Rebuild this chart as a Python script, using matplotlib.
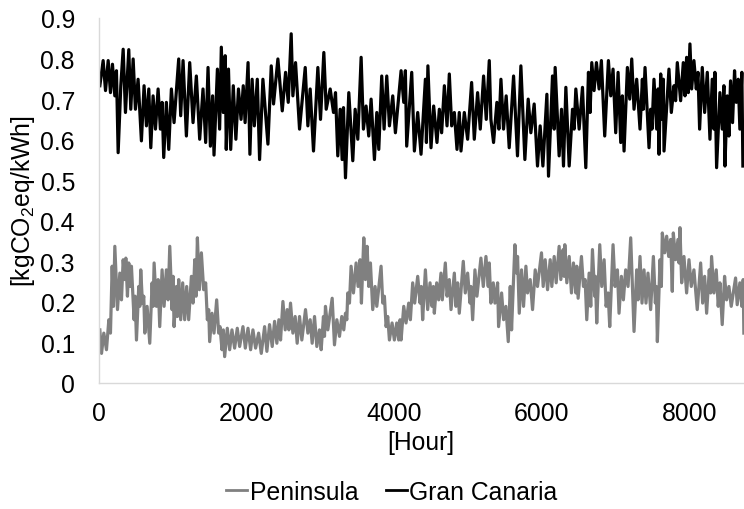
import matplotlib.pyplot as plt
import numpy as np

# hourly emission factor (local highs and lows in order)
gc_hours = [18, 63, 95, 131, 162, 189, 221, 243, 266, 302, 334, 365, 410, 437, 469, 500, 536, 581, 617, 649,
            681, 708, 739, 771, 807, 838, 861, 883, 919, 951, 987, 1023, 1086, 1113, 1145, 1190, 1235, 1280, 1325, 1370,
            1415, 1451, 1483, 1515, 1545, 1564, 1610, 1640, 1663, 1690, 1715, 1730, 1760, 1790, 1825, 1860, 1895, 1930, 1960, 1985,
            2025, 2050, 2080, 2110, 2150, 2181,
            2226, 2294, 2339, 2370, 2429, 2488, 2533, 2569, 2609, 2632, 2668, 2722, 2799, 2835, 2866, 2911, 2970, 3006, 3051, 3083,
            3137, 3182, 3209, 3240, 3272, 3299, 3317, 3344, 3389, 3443, 3475, 3511, 3556, 3587, 3623, 3659, 3691, 3736, 3768, 3795,
            3835, 3867, 3903, 3939, 3984, 4020, 4097, 4133, 4155, 4173, 4241, 4277, 4322, 4367, 4426,
            4440, 4460, 4502, 4538, 4583, 4615, 4646, 4683, 4719, 4750, 4782, 4818, 4854, 4885, 4908, 4953, 4998, 5052, 5088, 5133,
            5169, 5214, 5250, 5291, 5313, 5349, 5394, 5421, 5449, 5484, 5520, 5561, 5620, 5673, 5719, 5773, 5818, 5854, 5899, 5944,
            5980, 6017, 6071, 6093, 6147, 6170, 6183, 6237, 6269, 6296, 6328, 6373, 6418, 6440, 6463, 6508, 6553, 6598, 6634,
            6656, 6679, 6710, 6742, 6778, 6809, 6854, 6904, 6936, 6967, 7003, 7035, 7071, 7093, 7116, 7161, 7193, 7220, 7251, 7287,
            7332, 7364, 7377, 7400, 7454, 7476, 7494, 7521, 7558, 7576, 7589, 7612, 7634, 7648, 7657, 7724, 7756, 7792, 7814, 7837,
            7882, 7918, 7941, 7963, 7986, 8008, 8031, 8062, 8094, 8117, 8139, 8175, 8207, 8243, 8279, 8310, 8333, 8346, 8369, 8414,
            8445, 8468, 8482, 8513, 8536, 8558, 8585, 8612, 8635, 8662, 8684, 8711, 8725]
gc_co2 = [0.733, 0.795, 0.721, 0.795, 0.716, 0.786, 0.708, 0.770, 0.568, 0.733, 0.823, 0.667, 0.822, 0.675, 0.799, 0.675, 0.749, 0.597, 0.733, 0.634,
          0.725, 0.580, 0.708, 0.626, 0.725, 0.626, 0.692, 0.556, 0.692, 0.576, 0.725, 0.642, 0.799, 0.659, 0.795, 0.609, 0.790, 0.642, 0.757, 0.601,
          0.725, 0.593, 0.778, 0.584, 0.708, 0.562, 0.774, 0.626, 0.828, 0.667, 0.807, 0.576, 0.774, 0.576, 0.733, 0.601, 0.725, 0.650, 0.733, 0.642,
          0.790, 0.564, 0.749, 0.634, 0.749, 0.551,
          0.749, 0.589, 0.782, 0.688, 0.799, 0.671, 0.766, 0.692, 0.861, 0.708, 0.790, 0.626, 0.778, 0.634, 0.725, 0.572, 0.778, 0.650, 0.815, 0.675,
          0.725, 0.667, 0.716, 0.560, 0.675, 0.551, 0.679, 0.506, 0.716, 0.548, 0.675, 0.601, 0.803, 0.626, 0.683, 0.609, 0.700, 0.551, 0.667, 0.576,
          0.757, 0.626, 0.757, 0.634, 0.708, 0.617, 0.770, 0.692, 0.770, 0.584, 0.766, 0.572, 0.667, 0.564, 0.749,
          0.593, 0.782, 0.580, 0.683, 0.593, 0.675, 0.617, 0.733, 0.634, 0.762, 0.634, 0.667, 0.576, 0.667, 0.572, 0.667, 0.601, 0.741, 0.601, 0.716,
          0.626, 0.757, 0.650, 0.795, 0.650, 0.593, 0.692, 0.626, 0.749, 0.626, 0.708, 0.580, 0.757, 0.560, 0.782, 0.551, 0.700, 0.617, 0.688, 0.535,
          0.634, 0.535, 0.712, 0.510, 0.757, 0.626, 0.778, 0.560, 0.675, 0.535, 0.729, 0.535, 0.675, 0.626, 0.725, 0.626, 0.729, 0.531, 0.766,
          0.667, 0.790, 0.721, 0.790, 0.725, 0.795, 0.609, 0.795, 0.708, 0.774, 0.617, 0.766, 0.593, 0.708, 0.572, 0.778, 0.700, 0.799, 0.675, 0.749,
          0.626, 0.749, 0.675, 0.778, 0.580, 0.675, 0.626, 0.749, 0.626, 0.725, 0.564, 0.762, 0.650, 0.749, 0.572, 0.774, 0.667, 0.733, 0.696, 0.790,
          0.696, 0.790, 0.708, 0.803, 0.716, 0.836, 0.725, 0.795, 0.725, 0.766, 0.626, 0.778, 0.667, 0.766, 0.601, 0.749, 0.626, 0.766, 0.531, 0.716,
          0.626, 0.733, 0.535, 0.708, 0.609, 0.745, 0.642, 0.770, 0.692, 0.749, 0.626, 0.766, 0.535]

pen_hours = [18, 41, 72, 108, 140, 162, 185, 203, 221, 257, 289, 311, 334, 356, 370, 392, 410, 428, 446, 482,
             496, 514, 545, 559, 572, 595, 613, 627, 658, 694, 726, 739, 753, 784, 807, 829, 861, 888, 919, 942,
             965, 996, 1010, 1023, 1055, 1068, 1086, 1113, 1140, 1167, 1194, 1221, 1258, 1280, 1303, 1321, 1339, 1366, 1393, 1424,
             1451, 1474, 1492, 1505, 1537, 1564, 1600, 1627, 1645, 1672, 1690, 1708, 1744, 1776, 1807, 1843, 1879, 1911, 1956, 1988,
             2024, 2060, 2091, 2127, 2168,
             2204, 2249, 2280, 2316, 2352, 2384, 2415, 2442, 2465, 2497, 2528, 2555, 2578, 2600, 2632, 2663, 2690, 2722, 2753, 2803,
             2835, 2866, 2893, 2925, 2956, 2992, 3015, 3046, 3060, 3073, 3105, 3164, 3195, 3227, 3263, 3294, 3321, 3344, 3362, 3375,
             3398, 3420, 3452, 3488, 3515, 3542, 3560, 3592, 3614, 3637, 3659, 3682, 3713, 3745, 3768, 3826, 3849, 3871, 3894, 3916,
             3939, 3975, 4006, 4038, 4065, 4083, 4097, 4133, 4164, 4200, 4223, 4254, 4281, 4322, 4354, 4371, 4389, 4426,
             4457, 4489, 4516, 4534, 4547, 4579, 4606, 4637, 4655, 4696, 4719, 4750, 4773, 4818, 4840, 4863, 4885, 4939, 4966, 4998,
             5030, 5043, 5066, 5097, 5124, 5178, 5210, 5246, 5277, 5291, 5313, 5345, 5368, 5404, 5417, 5458, 5485, 5516, 5548, 5575,
             5593, 5638, 5660, 5674, 5697, 5728, 5755, 5787, 5809, 5845, 5877, 5913, 5944, 5998, 6021, 6048, 6080, 6116, 6138, 6170,
             6197, 6237, 6260, 6291, 6305, 6314, 6341, 6373, 6404, 6431, 6463, 6476, 6494, 6539, 6566, 6589, 6611,
             6643, 6665, 6688, 6719, 6728, 6746, 6787, 6814, 6846, 6873, 6900, 6922, 6967, 6994, 7026, 7048, 7080, 7107, 7138, 7170,
             7206, 7251, 7287, 7305, 7332, 7359, 7386, 7413, 7440, 7476, 7513, 7540, 7553, 7567, 7603, 7621, 7634, 7666, 7693, 7720,
             7747, 7769, 7783, 7814, 7846, 7860, 7873, 7896, 7927, 7963, 7995, 8026, 8062, 8107, 8153, 8180, 8207, 8234, 8270, 8288,
             8301, 8333, 8364, 8391, 8414, 8445, 8477, 8504, 8536, 8567, 8626, 8648, 8684, 8711, 8729, 8738]
pen_co2 = [0.131, 0.073, 0.123, 0.082, 0.156, 0.123, 0.288, 0.189, 0.337, 0.181, 0.271, 0.205, 0.304, 0.255, 0.308, 0.214, 0.296, 0.238, 0.288, 0.156,
           0.214, 0.106, 0.238, 0.189, 0.279, 0.197, 0.214, 0.123, 0.189, 0.098, 0.247, 0.189, 0.296, 0.189, 0.255, 0.139, 0.279, 0.189, 0.279, 0.205,
           0.337, 0.181, 0.263, 0.139, 0.238, 0.164, 0.255, 0.156, 0.247, 0.156, 0.238, 0.156, 0.263, 0.197, 0.304, 0.214, 0.358, 0.230, 0.321, 0.230,
           0.247, 0.156, 0.181, 0.102, 0.172, 0.123, 0.205, 0.123, 0.139, 0.082, 0.131, 0.065, 0.135, 0.082, 0.131, 0.086, 0.135, 0.090, 0.139, 0.086,
           0.135, 0.082, 0.131, 0.086, 0.123,
           0.073, 0.139, 0.078, 0.144, 0.090, 0.152, 0.098, 0.156, 0.106, 0.201, 0.131, 0.181, 0.131, 0.197, 0.123, 0.164, 0.098, 0.164, 0.106, 0.181,
           0.123, 0.156, 0.098, 0.164, 0.090, 0.131, 0.082, 0.164, 0.115, 0.189, 0.131, 0.209, 0.094, 0.156, 0.115, 0.164, 0.131, 0.172, 0.156, 0.222,
           0.197, 0.288, 0.222, 0.296, 0.238, 0.304, 0.197, 0.358, 0.255, 0.337, 0.238, 0.296, 0.181, 0.238, 0.189, 0.288, 0.197, 0.214, 0.139, 0.164,
           0.106, 0.148, 0.106, 0.148, 0.106, 0.156, 0.106, 0.189, 0.148, 0.197, 0.156, 0.247, 0.197, 0.263, 0.197, 0.238, 0.156, 0.279,
           0.181, 0.247, 0.189, 0.238, 0.172, 0.247, 0.205, 0.271, 0.205, 0.296, 0.214, 0.255, 0.181, 0.271, 0.189, 0.247, 0.172, 0.300, 0.222, 0.271,
           0.197, 0.238, 0.156, 0.279, 0.214, 0.308, 0.238, 0.312, 0.238, 0.296, 0.197, 0.247, 0.197, 0.247, 0.139, 0.222, 0.156, 0.189, 0.102, 0.238,
           0.131, 0.341, 0.271, 0.312, 0.172, 0.279, 0.189, 0.288, 0.222, 0.255, 0.181, 0.279, 0.238, 0.321, 0.238, 0.304, 0.230, 0.304, 0.238, 0.312,
           0.247, 0.337, 0.255, 0.329, 0.263, 0.341, 0.247, 0.312, 0.222, 0.296, 0.222, 0.288, 0.209, 0.312, 0.238, 0.255, 0.156,
           0.271, 0.189, 0.329, 0.214, 0.263, 0.148, 0.341, 0.238, 0.304, 0.189, 0.222, 0.139, 0.341, 0.238, 0.279, 0.172, 0.263, 0.205, 0.279, 0.238,
           0.358, 0.127, 0.279, 0.205, 0.312, 0.197, 0.279, 0.197, 0.271, 0.181, 0.312, 0.197, 0.238, 0.102, 0.304, 0.238, 0.370, 0.321, 0.362, 0.312,
           0.354, 0.226, 0.370, 0.304, 0.354, 0.296, 0.383, 0.247, 0.312, 0.222, 0.304, 0.238, 0.279, 0.181, 0.296, 0.197, 0.263, 0.172, 0.279, 0.222,
           0.312, 0.222, 0.279, 0.189, 0.247, 0.144, 0.263, 0.205, 0.238, 0.189, 0.259, 0.193, 0.247, 0.189, 0.255, 0.123]

x_ticks = [0, 2000, 4000, 6000, 8000]
y_ticks = [0, 0.1, 0.2, 0.3, 0.4, 0.5, 0.6, 0.7, 0.8, 0.9]
y_tick_labels = ['0', '0.1', '0.2', '0.3', '0.4', '0.5', '0.6', '0.7', '0.8', '0.9']

plt.rcParams['font.family'] = ['Liberation Sans', 'DejaVu Sans']
plt.rcParams['mathtext.fontset'] = 'custom'
plt.rcParams['mathtext.rm'] = 'Liberation Sans'
plt.rcParams['mathtext.it'] = 'Liberation Sans:italic'

fs = 17.8
W, H = 744, 510

fig = plt.figure(figsize=(W / 100, H / 100), dpi=100)
ax = fig.add_axes([98.5 / W, 1 - 384 / H, 1 - 98.5 / W, (384 - 19) / H])

ax.plot(pen_hours, pen_co2, color='#808080', lw=2.3, label='Peninsula')
ax.plot(gc_hours, gc_co2, color='black', lw=2.3, label='Gran Canaria')

ax.set_xlim(0, 8740)
ax.set_ylim(0, 0.9)
ax.set_xticks(x_ticks)
ax.set_xticklabels([str(t) for t in x_ticks])
ax.set_yticks(y_ticks)
ax.set_yticklabels(y_tick_labels)
ax.tick_params(axis='both', length=0, labelsize=fs)
ax.tick_params(axis='y', pad=17)
ax.tick_params(axis='x', pad=13)

for s in ['top', 'right']:
    ax.spines[s].set_visible(False)
for s in ['left', 'bottom']:
    ax.spines[s].set_color('#d9d9d9')
    ax.spines[s].set_linewidth(1.0)

fig.text(421 / W, 1 - 443 / H, '[Hour]', ha='center', va='center', fontsize=fs)
fig.text(23 / W, 1 - 201 / H, r'[kgCO$_2$eq/kWh]', ha='center', va='center',
         rotation=90, fontsize=fs)

leg = fig.legend(loc='center', bbox_to_anchor=(392 / W, 1 - 493 / H), ncol=2,
                 frameon=False, fontsize=fs, handlelength=0.85, handletextpad=0.1,
                 columnspacing=1.1, borderaxespad=0)
for line in leg.get_lines():
    line.set_linewidth(2)

fig.savefig('out.png', dpi=100)
